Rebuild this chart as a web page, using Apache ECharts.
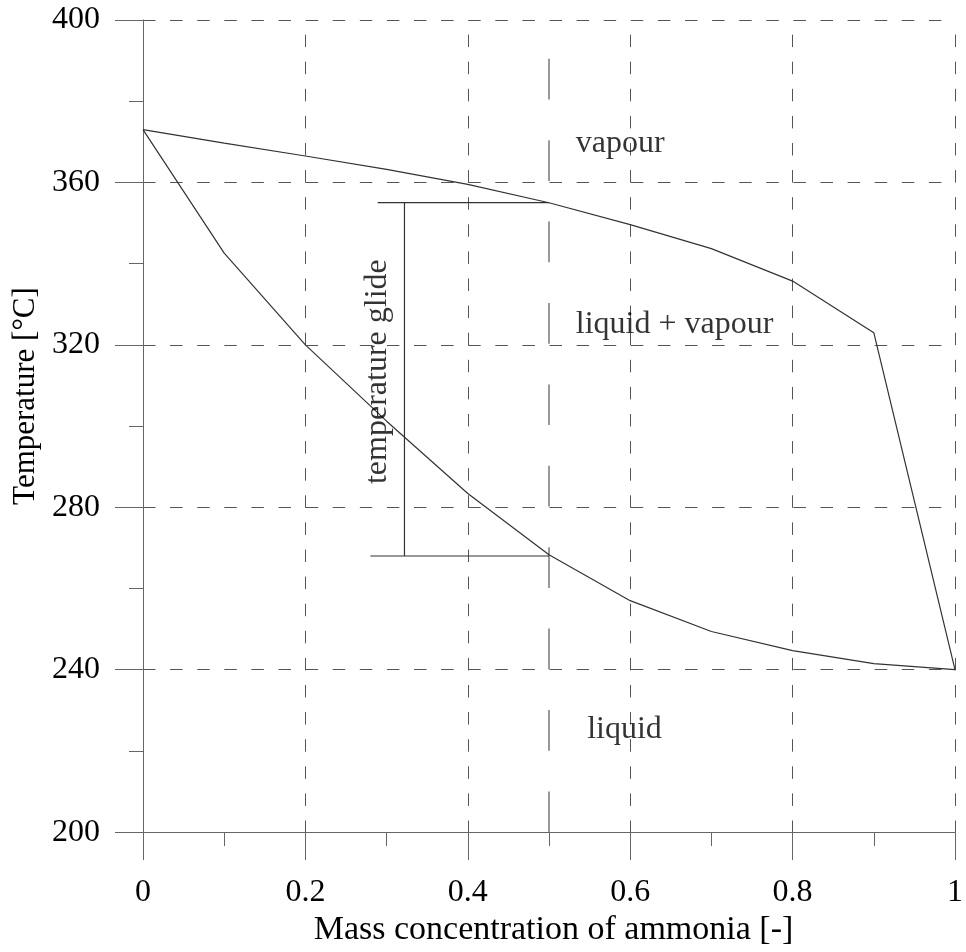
<!DOCTYPE html>
<html>
<head>
<meta charset="utf-8">
<script src="https://cdn.jsdelivr.net/npm/echarts@6/dist/echarts.min.js"></script>
<style>
  html, body { margin: 0; padding: 0; background: #fff; }
  #chart { width: 966px; height: 952px; }
</style>
</head>
<body>
<div id="chart"></div>
<script>
// mass concentration of ammonia
const concentration = [0, 0.1, 0.2, 0.3, 0.4, 0.5, 0.6, 0.7, 0.8, 0.9, 1];
// dew line (upper) and bubble line (lower), °C
const dewTemp = [373, 369.7, 366.5, 363.2, 359.5, 355, 349.6, 343.7, 335.7, 323, 240];
const bubbleTemp = [373, 342.6, 320, 301.2, 283.4, 268.3, 257, 249.4, 244.7, 241.5, 240];

// temperature glide bracket at x = 0.5
const glideAt = 0.5;
const glideTop = 355;
const glideBottom = 268;
const glideTopStart = 0.289;
const glideBottomStart = 0.28;
const glideBarX = 0.322;

// region labels [x, y, text]
const regionLabels = [
  [0.533, 369.5, 'vapour'],
  [0.533, 325, 'liquid + vapour'],
  [0.547, 225.3, 'liquid']
];
const glideLabel = [0.289, 313.4, 'temperature glide'];

const font = "'Liberation Serif', 'Times New Roman', serif";
const axisColor = '#666';
const gridColor = '#555';
const curveColor = '#333';

const chart = echarts.init(document.getElementById('chart'));

const option = {
  animation: false,
  backgroundColor: '#fff',
  grid: { left: 143, right: 11, top: 20, bottom: 118 },
  xAxis: {
    type: 'value',
    min: 0,
    max: 1,
    interval: 0.2,
    name: 'Mass concentration of ammonia [-]',
    nameLocation: 'middle',
    nameGap: 80,
    nameTextStyle: { fontFamily: font, fontSize: 34, color: '#000', padding: [0, 0, 0, 9] },
    axisLine: { lineStyle: { color: axisColor, width: 1 } },
    axisTick: { length: 28, lineStyle: { color: axisColor } },
    minorTick: { show: true, splitNumber: 2, length: 14, lineStyle: { color: axisColor } },
    axisLabel: { fontFamily: font, fontSize: 32, color: '#000', margin: 44 },
    splitLine: {
      show: true,
      lineStyle: { color: gridColor, width: 1, type: [12.5, 14.6], dashOffset: 12.5 }
    }
  },
  yAxis: {
    type: 'value',
    min: 200,
    max: 400,
    interval: 40,
    name: 'Temperature [°C]',
    nameLocation: 'middle',
    nameGap: 98,
    nameRotate: 90,
    nameTextStyle: { fontFamily: font, fontSize: 31, color: '#000', padding: [0, 0, 0, 60] },
    axisLine: { show: true, lineStyle: { color: axisColor, width: 1 } },
    axisTick: { show: true, length: 28, lineStyle: { color: axisColor } },
    minorTick: { show: true, splitNumber: 2, length: 14, lineStyle: { color: axisColor } },
    axisLabel: { fontFamily: font, fontSize: 32, color: '#000', margin: 43 },
    splitLine: {
      show: true,
      lineStyle: { color: gridColor, width: 1, type: [12.5, 14.6] }
    }
  },
  series: [
    {
      name: 'long dash',
      type: 'line',
      data: [[glideAt, 200], [glideAt, 400]],
      symbol: 'none',
      silent: true,
      lineStyle: { color: gridColor, width: 1.2, type: [40.7, 40.7] },
      z: 2
    },
    {
      name: 'dew',
      type: 'line',
      data: concentration.map((x, i) => [x, dewTemp[i]]),
      symbol: 'none',
      lineStyle: { color: curveColor, width: 1.2 },
      z: 3
    },
    {
      name: 'bubble',
      type: 'line',
      data: concentration.map((x, i) => [x, bubbleTemp[i]]),
      symbol: 'none',
      lineStyle: { color: curveColor, width: 1.2 },
      z: 3
    },
    {
      name: 'glide top',
      type: 'line',
      data: [[glideTopStart, glideTop], [glideAt, glideTop]],
      symbol: 'none',
      lineStyle: { color: curveColor, width: 1.2 },
      z: 3
    },
    {
      name: 'glide bottom',
      type: 'line',
      data: [[glideBottomStart, glideBottom], [glideAt, glideBottom]],
      symbol: 'none',
      lineStyle: { color: curveColor, width: 1.2 },
      z: 3
    },
    {
      name: 'glide bar',
      type: 'line',
      data: [[glideBarX, glideTop], [glideBarX, glideBottom]],
      symbol: 'none',
      lineStyle: { color: curveColor, width: 1.2 },
      z: 3
    },
    {
      name: 'regions',
      type: 'scatter',
      symbolSize: 0,
      silent: true,
      data: regionLabels.map(r => ({ value: [r[0], r[1]], name: r[2] })),
      label: {
        show: true,
        position: 'inside',
        align: 'left',
        verticalAlign: 'middle',
        formatter: p => p.name,
        fontFamily: font,
        fontSize: 32,
        color: '#000'
      },
      z: 4
    },
    {
      name: 'glide label',
      type: 'scatter',
      symbolSize: 0,
      silent: true,
      data: [{ value: [glideLabel[0], glideLabel[1]], name: glideLabel[2] }],
      label: {
        show: true,
        position: 'inside',
        align: 'center',
        verticalAlign: 'middle',
        rotate: 90,
        formatter: p => p.name,
        fontFamily: font,
        fontSize: 32,
        color: '#000'
      },
      z: 4
    }
  ]
};

chart.setOption(option);
</script>
</body>
</html>
